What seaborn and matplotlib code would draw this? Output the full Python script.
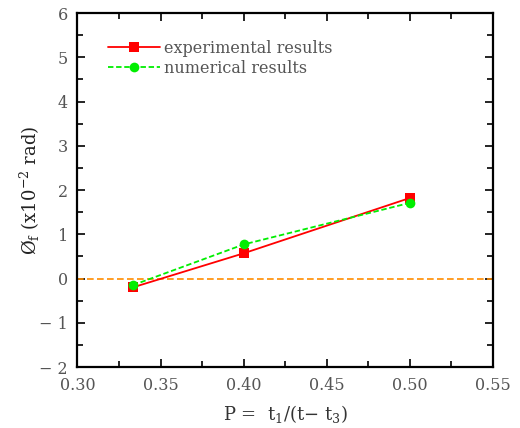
import matplotlib
matplotlib.use("Agg")
import matplotlib.pyplot as plt
import matplotlib.ticker as mticker
import seaborn as sns
import pandas as pd

# Data
p_values = [1/3, 0.40, 0.50]
experimental = [-0.20, 0.57, 1.82]
numerical = [-0.15, 0.77, 1.71]
series_names = ["experimental results", "numerical results"]

sns.set_style("ticks")
plt.rcParams["font.family"] = ["DejaVu Serif"]
plt.rcParams["mathtext.fontset"] = "dejavuserif"

df = pd.DataFrame({
    "P": p_values * 2,
    "phi": experimental + numerical,
    "series": [series_names[0]] * 3 + [series_names[1]] * 3,
})

fig = plt.figure(figsize=(5.2, 4.28), dpi=100)
ax = fig.add_axes([0.149, 0.1425, 0.799, 0.827])

ax.axhline(0, color="#FF8C00", linestyle=(0, (4, 2)), linewidth=1.2, zorder=1)

sns.lineplot(data=df, x="P", y="phi", hue="series", style="series",
             palette={series_names[0]: "#FF0000", series_names[1]: "#00EE00"},
             dashes={series_names[0]: "", series_names[1]: (3, 1.5)},
             markers={series_names[0]: "s", series_names[1]: "o"},
             markersize=7, markeredgewidth=0, linewidth=1.3, ax=ax, zorder=3)

ax.set_xlim(0.30, 0.55)
ax.set_ylim(-2, 6)
ax.xaxis.set_major_locator(mticker.MultipleLocator(0.05))
ax.xaxis.set_minor_locator(mticker.MultipleLocator(0.025))
ax.yaxis.set_major_locator(mticker.MultipleLocator(1))
ax.yaxis.set_minor_locator(mticker.MultipleLocator(0.5))
ax.xaxis.set_major_formatter(mticker.FuncFormatter(lambda v, _: f"{v:.2f}"))
ax.yaxis.set_major_formatter(mticker.FuncFormatter(
    lambda v, _: f"\u2212 {abs(int(round(v)))}" if v < 0 else f"{int(round(v))}"))

ax.tick_params(which="both", direction="in", top=True, right=True,
               colors="black", labelcolor="#555555", labelsize=11.5, width=1.2)
ax.tick_params(which="major", length=6, pad=7)
ax.tick_params(which="minor", length=4)
for s in ax.spines.values():
    s.set_linewidth(1.6)
    s.set_color("black")

ax.set_xlabel(r"P =  t$_{1}$/(t$-$ t$_{3}$)", fontsize=13, color="#333333", labelpad=7)
ax.set_ylabel(r"Ø$_{\rm f}$ (x10$^{-2}$ rad)", fontsize=13, color="#222222")
ax.yaxis.set_label_coords(-0.085, 0.5)

leg = ax.legend(loc="upper left", bbox_to_anchor=(0.04, 0.965), frameon=False,
                fontsize=11.5, handlelength=3.2, handletextpad=0.3, labelspacing=0.2)
for t in leg.get_texts():
    t.set_color("#555555")

fig.savefig("out.png", dpi=100)
